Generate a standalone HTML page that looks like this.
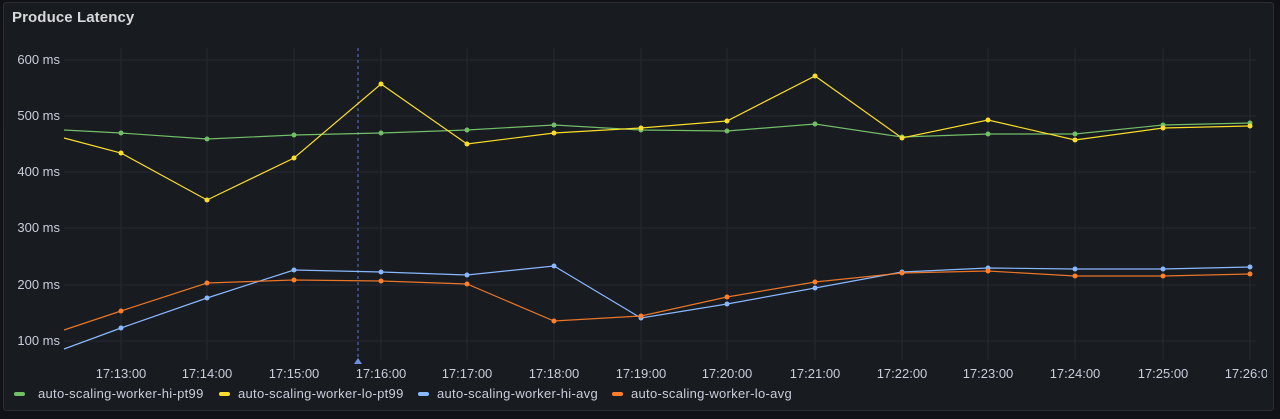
<!DOCTYPE html>
<html><head><style>
html,body{margin:0;padding:0;background:#111217;width:1280px;height:419px;overflow:hidden}
svg{display:block}
text{font-family:"Liberation Sans",sans-serif}
</style></head><body>
<svg width="1280" height="419" viewBox="0 0 1280 419">
<rect x="0" y="0" width="1280" height="419" fill="#111217"/>
<rect x="3.5" y="2.5" width="1270" height="408" rx="3" fill="#181b1f" stroke="#2a2d33"/>
<text x="12" y="22" font-size="15" fill="#d8d9da" font-weight="bold" letter-spacing="0.1">Produce Latency</text>
<g stroke="#262930" stroke-width="1">
<line x1="64" y1="60" x2="1256" y2="60"/><line x1="64" y1="116" x2="1256" y2="116"/><line x1="64" y1="172" x2="1256" y2="172"/><line x1="64" y1="228" x2="1256" y2="228"/><line x1="64" y1="285" x2="1256" y2="285"/><line x1="64" y1="341" x2="1256" y2="341"/>
<line x1="121" y1="48" x2="121" y2="360"/><line x1="207" y1="48" x2="207" y2="360"/><line x1="294" y1="48" x2="294" y2="360"/><line x1="381" y1="48" x2="381" y2="360"/><line x1="467" y1="48" x2="467" y2="360"/><line x1="554" y1="48" x2="554" y2="360"/><line x1="641" y1="48" x2="641" y2="360"/><line x1="727" y1="48" x2="727" y2="360"/><line x1="815" y1="48" x2="815" y2="360"/><line x1="902" y1="48" x2="902" y2="360"/><line x1="988" y1="48" x2="988" y2="360"/><line x1="1075" y1="48" x2="1075" y2="360"/><line x1="1163" y1="48" x2="1163" y2="360"/><line x1="1250" y1="48" x2="1250" y2="360"/>
</g>
<g font-size="13" fill="#ccccdc" text-anchor="end">
<text x="60" y="64">600 ms</text><text x="60" y="120">500 ms</text><text x="60" y="176">400 ms</text><text x="60" y="232">300 ms</text><text x="60" y="289">200 ms</text><text x="60" y="345">100 ms</text>
</g>
<g font-size="13" fill="#ccccdc" text-anchor="middle">
<text x="121" y="378">17:13:00</text><text x="207" y="378">17:14:00</text><text x="294" y="378">17:15:00</text><text x="381" y="378">17:16:00</text><text x="467" y="378">17:17:00</text><text x="554" y="378">17:18:00</text><text x="641" y="378">17:19:00</text><text x="727" y="378">17:20:00</text><text x="815" y="378">17:21:00</text><text x="902" y="378">17:22:00</text><text x="988" y="378">17:23:00</text><text x="1075" y="378">17:24:00</text><text x="1163" y="378">17:25:00</text>
</g>
<svg x="0" y="0" width="1267" height="419"><text x="1250" y="378" font-size="13" fill="#ccccdc" text-anchor="middle">17:26:00</text></svg>
<line x1="358" y1="48" x2="358" y2="360" stroke="#5a7ad0" stroke-dasharray="3,3"/>
<polygon points="354,364 362,364 358,358" fill="#6e8fe0"/>
<g fill="none" stroke-width="1.2">
<polyline stroke="#73bf69" points="64,130 121,133 207,139 294,135 381,133 467,130 554,125 641,130 727,131 815,124 902,137 988,134 1075,134 1163,125 1250,123"/>
<polyline stroke="#fade2a" points="64,138 121,153 207,200 294,158 381,84 467,144 554,133 641,128 727,121 815,76 902,138 988,120 1075,140 1163,128 1250,126"/>
<polyline stroke="#8ab8ff" points="64,349 121,328 207,298 294,270 381,272 467,275 554,266 641,318 727,304 815,288 902,272 988,268 1075,269 1163,269 1250,267"/>
<polyline stroke="#ff7f2a" stroke-opacity="0.9" points="64,330 121,311 207,283 294,280 381,281 467,284 554,321 641,316 727,297 815,282 902,273 988,271 1075,276 1163,276 1250,274"/>
</g>
<g fill="#73bf69"><circle cx="121" cy="133" r="2.5"/><circle cx="207" cy="139" r="2.5"/><circle cx="294" cy="135" r="2.5"/><circle cx="381" cy="133" r="2.5"/><circle cx="467" cy="130" r="2.5"/><circle cx="554" cy="125" r="2.5"/><circle cx="641" cy="130" r="2.5"/><circle cx="727" cy="131" r="2.5"/><circle cx="815" cy="124" r="2.5"/><circle cx="902" cy="137" r="2.5"/><circle cx="988" cy="134" r="2.5"/><circle cx="1075" cy="134" r="2.5"/><circle cx="1163" cy="125" r="2.5"/><circle cx="1250" cy="123" r="2.5"/></g>
<g fill="#fade2a"><circle cx="121" cy="153" r="2.5"/><circle cx="207" cy="200" r="2.5"/><circle cx="294" cy="158" r="2.5"/><circle cx="381" cy="84" r="2.5"/><circle cx="467" cy="144" r="2.5"/><circle cx="554" cy="133" r="2.5"/><circle cx="641" cy="128" r="2.5"/><circle cx="727" cy="121" r="2.5"/><circle cx="815" cy="76" r="2.5"/><circle cx="902" cy="138" r="2.5"/><circle cx="988" cy="120" r="2.5"/><circle cx="1075" cy="140" r="2.5"/><circle cx="1163" cy="128" r="2.5"/><circle cx="1250" cy="126" r="2.5"/></g>
<g fill="#8ab8ff"><circle cx="121" cy="328" r="2.5"/><circle cx="207" cy="298" r="2.5"/><circle cx="294" cy="270" r="2.5"/><circle cx="381" cy="272" r="2.5"/><circle cx="467" cy="275" r="2.5"/><circle cx="554" cy="266" r="2.5"/><circle cx="641" cy="318" r="2.5"/><circle cx="727" cy="304" r="2.5"/><circle cx="815" cy="288" r="2.5"/><circle cx="902" cy="272" r="2.5"/><circle cx="988" cy="268" r="2.5"/><circle cx="1075" cy="269" r="2.5"/><circle cx="1163" cy="269" r="2.5"/><circle cx="1250" cy="267" r="2.5"/></g>
<g fill="#ff7f2a"><circle cx="121" cy="311" r="2.5"/><circle cx="207" cy="283" r="2.5"/><circle cx="294" cy="280" r="2.5"/><circle cx="381" cy="281" r="2.5"/><circle cx="467" cy="284" r="2.5"/><circle cx="554" cy="321" r="2.5"/><circle cx="641" cy="316" r="2.5"/><circle cx="727" cy="297" r="2.5"/><circle cx="815" cy="282" r="2.5"/><circle cx="902" cy="273" r="2.5"/><circle cx="988" cy="271" r="2.5"/><circle cx="1075" cy="276" r="2.5"/><circle cx="1163" cy="276" r="2.5"/><circle cx="1250" cy="274" r="2.5"/></g>
<g font-size="13" fill="#ccccdc" letter-spacing="0.3">
<rect x="14" y="392" width="11" height="4" rx="2" fill="#73bf69"/><text x="38" y="398">auto-scaling-worker-hi-pt99</text>
<rect x="219" y="392" width="11" height="4" rx="2" fill="#fade2a"/><text x="238" y="398">auto-scaling-worker-lo-pt99</text>
<rect x="418" y="392" width="11" height="4" rx="2" fill="#8ab8ff"/><text x="437" y="398">auto-scaling-worker-hi-avg</text>
<rect x="612" y="392" width="11" height="4" rx="2" fill="#ff7f2a"/><text x="631" y="398">auto-scaling-worker-lo-avg</text>
</g>
</svg>
</body></html>
